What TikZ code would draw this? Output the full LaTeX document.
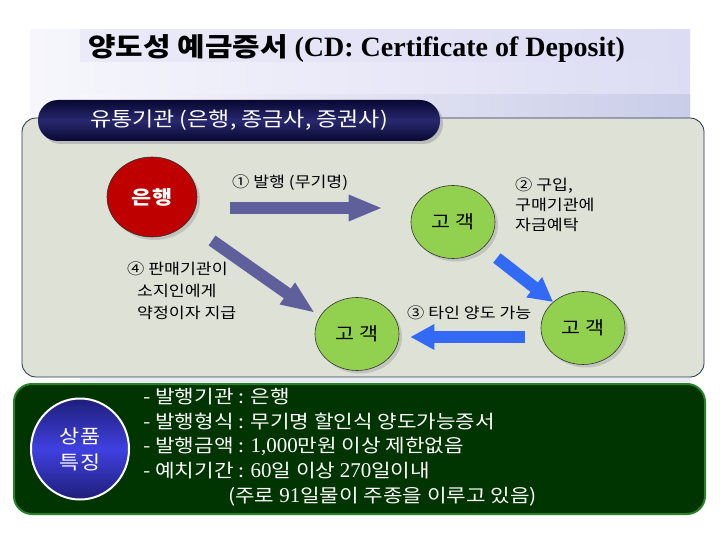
\documentclass[tikz,border=0pt]{standalone}
\usepackage{fontspec}
\setmainfont{Liberation Serif}
\newfontfamily\kr{Noto Sans CJK KR}
\newfontfamily\krw{Noto Sans CJK KR}[FakeStretch=1.15]
\newcommand{\numtxt}[1]{{\rmfamily\fontsize{21}{24.7}\selectfont #1}}
\usepackage{tikz}
\usetikzlibrary{positioning,calc,shapes.geometric,shadows,arrows.meta}

\definecolor{panelgray}{RGB}{221,225,214}
\definecolor{paneledge}{RGB}{35,50,80}
\definecolor{navytab}{RGB}{40,40,110}
\definecolor{navydark}{RGB}{8,8,50}
\definecolor{bankred}{RGB}{190,0,0}
\definecolor{custgreen}{RGB}{146,208,80}
\definecolor{slatearrow}{RGB}{95,95,155}
\definecolor{bluearrow}{RGB}{50,105,245}
\definecolor{darkgreen}{RGB}{0,52,0}
\definecolor{edgegreen}{RGB}{40,130,40}
\definecolor{lavender}{RGB}{220,220,244}
\definecolor{lavenderlight}{RGB}{246,246,252}
\definecolor{lavenderdark}{RGB}{202,205,232}
\definecolor{ballblue}{RGB}{64,64,225}
\definecolor{balldark}{RGB}{30,30,120}

\begin{document}
\begin{tikzpicture}[
    x=1pt, y=-1pt,
    font=\krw\fontsize{15}{20}\selectfont,
    node distance=10pt,
    circ/.style={ellipse, draw=black!80, line width=0.6pt, inner sep=0pt, drop shadow={shadow xshift=3pt, shadow yshift=-3pt, fill=black!35}},
    cust/.style={circ, fill=custgreen, minimum width=84pt, minimum height=73pt, font=\krw\fontsize{18}{20}\selectfont},
    slatearr/.style={draw=slatearrow, line width=12pt, -{Triangle[length=34pt, width=24pt]}},
    bluearr/.style={draw=bluearrow, line width=12pt, -{Triangle[length=24pt, width=24pt]}},
    lbl/.style={align=left, inner sep=0pt, anchor=west}
]
\useasboundingbox (0,0) rectangle (720,540);

% Top: title band
\fill[left color=lavenderlight, right color=lavender] (30,30) rectangle (690,118);
\fill[left color=lavender!60!white, right color=lavender] (80,30) rectangle (690,62);
\fill[left color=lavenderlight, right color=lavenderdark] (80,95) rectangle (690,118);

\node (title) [anchor=west, inner sep=0pt] at (88,48) {{\krw\bfseries\fontsize{26}{30}\selectfont 양도성 예금증서}{\rmfamily\bfseries\fontsize{28}{30}\selectfont\ (CD: Certificate of Deposit)}};

% Middle panel with tab
\draw[paneledge, fill=panelgray, rounded corners=14pt, line width=0.8pt] (22,118) rectangle (704,377);

\node (tab) [rounded corners=20pt, minimum width=402pt, minimum height=41pt,
    top color=navydark, bottom color=navydark, middle color=navytab, text=white,
    drop shadow={shadow xshift=3pt, shadow yshift=-3pt, fill=black!40},
    font=\krw\fontsize{20}{22}\selectfont] at (239,120.5) {유통기관 (은행, 종금사, 증권사)};

% Bank and customers
\node (bank) [circ, fill=bankred, minimum width=90pt, minimum height=80pt, text=white,
    font=\krw\bfseries\fontsize{19}{20}\selectfont] at (152,197) {은행};

\node (cust1) [cust] at (453,222) {고 객};
\node (cust2) [cust] at (583,328) {고 객};
\node (cust3) [cust] at (357,334) {고 객};

% Step labels
\node (lbl1) [lbl] at (232,183) {① 발행 (무기명)};
\node (lbl2) [lbl, anchor=north west] at (515,178) {② 구입,\\구매기관에\\자금예탁};
\node (lbl3) [lbl] at (407,313) {③ 타인 양도 가능};
\node (lbl4) [lbl, anchor=north west, font=\krw\fontsize{15}{22}\selectfont] at (127,262) {④ 판매기관이\\\hspace*{10pt}소지인에게\\\hspace*{10pt}약정이자 지급};

% Arrows
\draw[slatearr] ($(bank.east)+(33,11)$) -- ($(cust1.west)+(-28,-14)$);
\draw[bluearr] ($(cust1.south east)+(14,10)$) -- (cust2.north west);
\draw[bluearr] ($(cust2.west)+(-16,9)$) -- ($(cust3.east)+(11,3)$);
\draw[slatearr] ($(bank.south east)+(28,15)$) -- ($(cust3.north west)+(-12,5)$);

% Bottom: product features
\fill[lavender!60] (80,377.5) rectangle (690,383);
\draw[edgegreen, fill=darkgreen, line width=2pt, rounded corners=18pt] (14,384) rectangle (705,514);

\node (feature) [ellipse, draw=white, line width=2pt, minimum width=98pt, minimum height=101pt,
    top color=balldark, bottom color=balldark, middle color=ballblue, text=white, align=center,
    font=\krw\fontsize{19}{26}\selectfont] at (80,449) {상품\\특징};

\node (specs) [anchor=north west, inner sep=0pt, align=left, text=white,
    font=\krw\fontsize{18.5}{24.7}\selectfont] at (143,388) {%
- 발행기관 : 은행\\
- 발행형식 : 무기명 할인식 양도가능증서\\
- 발행금액 : \numtxt{1,000}만원 이상 제한없음\\
- 예치기간 : \numtxt{60}일 이상 \numtxt{270}일이내\\
\hspace*{85pt}(주로 \numtxt{91}일물이 주종을 이루고 있음)};

\end{tikzpicture}
\end{document}
